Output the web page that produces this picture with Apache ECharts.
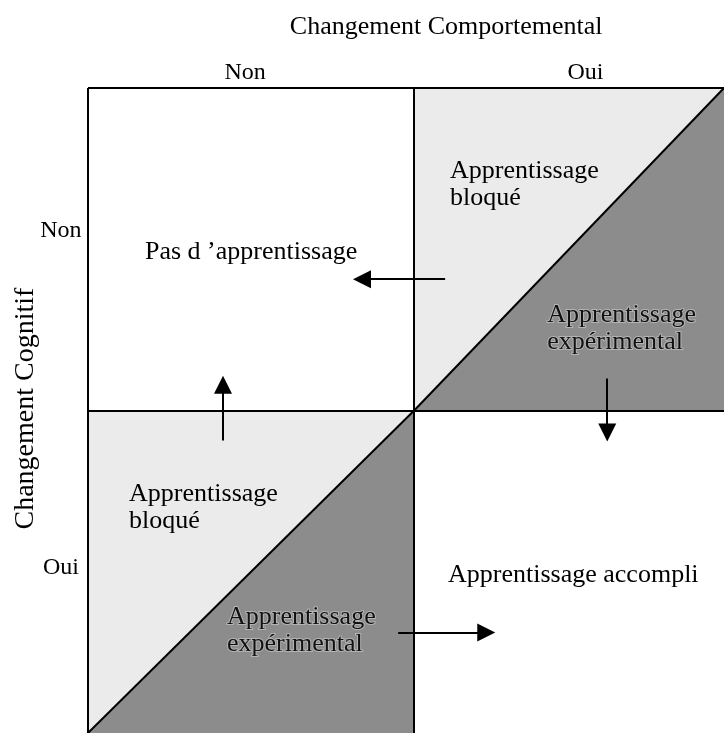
<!DOCTYPE html>
<html>
<head>
<meta charset="utf-8">
<script src="https://cdn.jsdelivr.net/npm/echarts@6/dist/echarts.min.js"></script>
<style>
  html, body { margin: 0; padding: 0; background: #fff; }
  #chart { width: 724px; height: 733px; }
</style>
</head>
<body>
<div id="chart"></div>
<script>
  // bords des colonnes / lignes de la matrice (unités d'axe)
  const colEdges = [0, 1, 1.95]
  const rowEdges = [0, 1, 2]

  // cases hachurées : [x0, y0, x1, y1]
  const shadedCells = [
    [1, 1, 1.95, 2],
    [0, 0, 1, 1]
  ]

  // flèches : [départ, arrivée]
  const arrows = [
    [[1.095, 1.407], [0.84, 1.407]],
    [[0.414, 0.907], [0.414, 1.08]],
    [[1.592, 1.099], [1.592, 0.932]],
    [[0.951, 0.312], [1.221, 0.312]]
  ]

  // textes dans les cases : [x, y, texte, alignement, foncé]
  const cellLabels = [
    [0.5, 1.49, "Pas d \u2019apprentissage", 'center', 0],
    [1.11, 1.70, 'Apprentissage\nbloqué', 'left', 0],
    [1.408, 1.253, 'Apprentissage\nexpérimental', 'left', 1],
    [0.126, 0.698, 'Apprentissage\nbloqué', 'left', 0],
    [0.426, 0.318, 'Apprentissage\nexpérimental', 'left', 1],
    [1.488, 0.488, 'Apprentissage accompli', 'center', 0]
  ]

  // titres des axes : [x, y, texte, taille, rotation]
  const axisTitles = [
    [1.098, 2.188, 'Changement Comportemental', 26, 0],
    [-0.19, 1.006, 'Changement Cognitif', 28, 90]
  ]
  const colNames = ['Non', 'Oui']
  const colNamePos = [[0.482, 2.046], [1.525, 2.046]]
  const rowNames = ['Non', 'Oui']
  const rowNamePos = [[-0.083, 1.556], [-0.083, 0.512]]

  const font = '"Liberation Serif", "Times New Roman", serif'
  const lightGray = '#ebebeb'
  const darkGray = '#8c8c8c'

  // traits de la grille (le bord du bas sort de l'image)
  const gridLines = []
  rowEdges.slice(1).forEach(function (y) {
    gridLines.push({ coords: [[colEdges[0], y], [colEdges[colEdges.length - 1], y]] })
  })
  colEdges.slice(0, 2).forEach(function (x) {
    gridLines.push({ coords: [[x, rowEdges[0]], [x, rowEdges[rowEdges.length - 1]]] })
  })
  // diagonales des cases hachurées
  shadedCells.forEach(function (c) {
    gridLines.push({ coords: [[c[0], c[1]], [c[2], c[3]]] })
  })

  const textItems = []
  axisTitles.forEach(function (t) {
    textItems.push({ value: [t[0], t[1]], text: t[2], size: t[3], rot: t[4], align: 'center', dark: 0 })
  })
  colNames.forEach(function (n, i) {
    textItems.push({ value: colNamePos[i], text: n, size: 24, rot: 0, align: 'center', dark: 0 })
  })
  rowNames.forEach(function (n, i) {
    textItems.push({ value: rowNamePos[i], text: n, size: 24, rot: 0, align: 'center', dark: 0 })
  })
  cellLabels.forEach(function (l) {
    textItems.push({ value: [l[0], l[1]], text: l[2], size: 26, rot: 0, align: l[3], dark: l[4] })
  })

  const chart = echarts.init(document.getElementById('chart'))
  chart.setOption({
    animation: false,
    grid: { left: 88, top: 88, right: 0, bottom: -3 },
    xAxis: { type: 'value', min: 0, max: 1.95, show: false },
    yAxis: { type: 'value', min: 0, max: 2, show: false },
    series: [
      {
        // triangles clair / foncé
        type: 'custom',
        coordinateSystem: 'cartesian2d',
        silent: true,
        clip: false,
        data: shadedCells,
        renderItem: function (params, api) {
          const x0 = api.value(0), y0 = api.value(1), x1 = api.value(2), y1 = api.value(3)
          const light = [api.coord([x0, y0]), api.coord([x0, y1]), api.coord([x1, y1])]
          const dark = [api.coord([x0, y0]), api.coord([x1, y0]), api.coord([x1, y1])]
          return {
            type: 'group',
            children: [
              { type: 'polygon', shape: { points: light }, style: { fill: lightGray } },
              { type: 'polygon', shape: { points: dark }, style: { fill: darkGray } }
            ]
          }
        }
      },
      {
        type: 'lines',
        coordinateSystem: 'cartesian2d',
        polyline: false,
        silent: true,
        symbol: 'none',
        lineStyle: { color: '#000', width: 2, opacity: 1 },
        data: gridLines
      },
      {
        type: 'lines',
        coordinateSystem: 'cartesian2d',
        silent: true,
        symbol: ['none', 'triangle'],
        symbolSize: 18,
        lineStyle: { color: '#000', width: 2, opacity: 1 },
        itemStyle: { color: '#000' },
        data: arrows.map(function (a) { return { coords: a } })
      },
      {
        type: 'custom',
        coordinateSystem: 'cartesian2d',
        silent: true,
        clip: false,
        data: textItems,
        renderItem: function (params, api) {
          const d = textItems[params.dataIndex]
          const p = api.coord(d.value)
          return {
            type: 'text',
            x: p[0],
            y: p[1],
            rotation: d.rot * Math.PI / 180,
            style: {
              text: d.text,
              font: d.size + 'px ' + font,
              fill: d.dark ? '#111' : '#000',
              stroke: d.dark ? '#b4b4b4' : null,
              lineWidth: d.dark ? 2 : 0,
              align: d.align,
              verticalAlign: 'middle',
              lineHeight: 27
            }
          }
        }
      }
    ]
  })
</script>
</body>
</html>
